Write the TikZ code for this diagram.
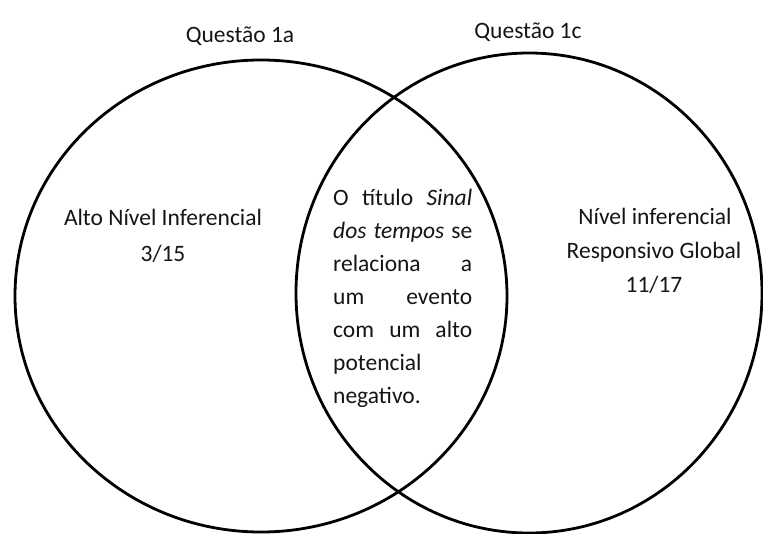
\documentclass[tikz,border=0pt]{standalone}
\usepackage{fontspec}
\setmainfont{Carlito}
\definecolor{ink}{HTML}{151515}
\begin{document}
\begin{tikzpicture}[x=1pt,y=-1pt,
  ring/.style={draw=black,line width=2.8pt},
  lbl/.style={anchor=base,inner sep=0pt,text=ink,font=\fontsize{23.5}{34}\selectfont},
  midtxt/.style={anchor=north west,inner sep=0pt,text=ink,align=left,
    font=\fontsize{23.5}{33}\selectfont}]
\useasboundingbox (0,0) rectangle (763,533);
\fill[white] (0,0) rectangle (763,533);
\draw[ring] (261,296) ellipse [x radius=246pt, y radius=236pt];
\draw[ring] (529,293) ellipse [x radius=233pt, y radius=240pt];
\node[lbl] (qa) at (240,42) {Questão 1a};
\node[lbl] (qc) at (528,38) {Questão 1c};
\node[lbl] (l1) at (163,225) {Alto Nível Inferencial};
\node[lbl] (l2) at (163,261) {3/15};
\node[lbl] (r1) at (655,224) {Nível inferencial};
\node[lbl] (r2) at (654,258) {Responsivo Global};
\node[lbl] (r3) at (654,292) {11/17};
\node[midtxt] (mid) at (333,189) {%
\makebox[139pt][s]{O título \textit{Sinal}}\\
\makebox[139pt][s]{\textit{dos tempos} se}\\
\makebox[139pt][s]{relaciona a}\\
\makebox[139pt][s]{um evento}\\
\makebox[139pt][s]{com um alto}\\
potencial\\
negativo.};
\end{tikzpicture}
\end{document}
